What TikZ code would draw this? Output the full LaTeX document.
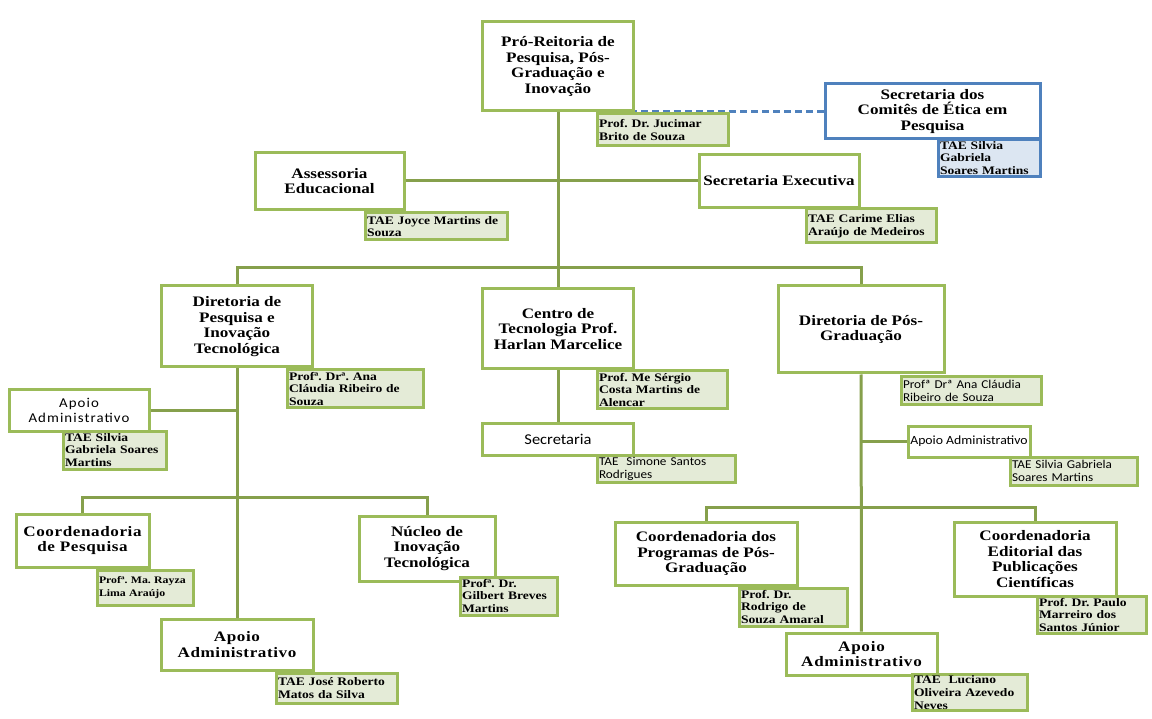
\documentclass[tikz,border=0pt]{standalone}
\usepackage{fontspec}
\setmainfont{Liberation Serif}[FakeStretch=1.18]
\newfontfamily\calib{Carlito}[FakeStretch=1.1]
\frenchspacing
\definecolor{boxgreen}{HTML}{9BBB59}
\definecolor{linegreen}{HTML}{86A04C}
\definecolor{staffgreen}{HTML}{E4EBD7}
\definecolor{boxblue}{HTML}{4F81BD}
\definecolor{staffblue}{HTML}{DCE6F2}
\tikzset{
  unit/.style={draw=boxgreen, line width=3pt, fill=white, align=center, inner sep=1pt,
    font=\bfseries\fontsize{14.5}{15.5}\selectfont},
  staff/.style={draw=boxgreen, line width=3pt, fill=staffgreen, align=left, inner sep=1.5pt,
    font=\bfseries\fontsize{11.5}{12.8}\selectfont},
  sansunit/.style={unit, font=\calib\fontsize{12.5}{15.5}\selectfont},
  sansstaff/.style={staff, font=\calib\fontsize{12}{13.5}\selectfont},
  link/.style={draw=linegreen, line width=3pt},
  dashlink/.style={draw=boxblue, line width=2.5pt, dashed, dash pattern=on 7pt off 4pt}
}
\begin{document}
\begin{tikzpicture}[x=1pt, y=-1pt]
\useasboundingbox (0,0) rectangle (1152,719);
% connectors
\coordinate (bus) at (559,268);
\coordinate (busleft) at (237,497);
\coordinate (busright) at (861,507);
\node[unit, minimum width=151, minimum height=89] (pro) at (558,66.5){Pró-Reitoria de\\Pesquisa, Pós-\\Graduação e\\Inovação};
\node[unit, minimum width=151, minimum height=80] (centro) at (558,329){Centro de\\Tecnologia Prof.\\Harlan Marcelice};
\node[unit, minimum width=151, minimum height=81] (dirpesq) at (237,326.5){Diretoria de\\Pesquisa e\\Inovação\\Tecnológica};
\node[unit, minimum width=166, minimum height=87] (dirpos) at (861,329.5){Diretoria de Pós-\\Graduação};
\draw[link] (pro) -- (centro);
\draw[link] (dirpesq.north) |- (bus) -| (dirpos.north);
\node[unit, minimum width=149, minimum height=57] (assess) at (329.5,181){Assessoria\\Educacional};
\node[unit, minimum width=160, minimum height=53] (secexec) at (779,181){Secretaria Executiva};
\draw[link] (assess) -- (secexec);
\node[unit, draw=boxblue, minimum width=215, minimum height=55] (comites) at (932.5,111.5){Secretaria dos\\Comitês de Ética em\\Pesquisa};
\draw[dashlink] (comites.west) -- (comites.west -| pro.east);
% diretoria de pesquisa
\node[unit, minimum width=152, minimum height=51] (apoiob) at (237,644.5){\addfontfeature{LetterSpace=4}Apoio\\\addfontfeature{LetterSpace=4}Administrativo};
\draw[link] (dirpesq) -- (apoiob);
\node[sansunit, font=\calib\fontsize{13.5}{15.5}\selectfont, minimum width=140, minimum height=41] (apoioa) at (79,410.5){\addfontfeature{LetterSpace=8}Apoio\\\addfontfeature{LetterSpace=8}Administrativo};
\draw[link] (apoioa) -- (apoioa -| dirpesq.south);
\node[unit, minimum width=133, minimum height=53] (coordpesq) at (82.5,540.5){\addfontfeature{LetterSpace=4}Coordenadoria\\\addfontfeature{LetterSpace=4}de Pesquisa};
\node[unit, minimum width=136, minimum height=65] (nucleo) at (427,548.5){Núcleo de\\Inovação\\Tecnológica};
\draw[link] (coordpesq.north) |- (busleft) -| (nucleo.north);
% centro de tecnologia
\node[sansunit, font=\calib\fontsize{15}{15.5}\selectfont, minimum width=151, minimum height=32] (secret) at (558,439){Secretaria};
\draw[link] (centro) -- (secret);
% diretoria de pos-graduacao
\node[unit, minimum width=151, minimum height=42] (apoiod) at (861.5,654){\addfontfeature{LetterSpace=5}Apoio\\\addfontfeature{LetterSpace=5}Administrativo};
\draw[link] (dirpos) -- (apoiod);
\node[sansunit, minimum width=122, minimum height=31] (apoioc) at (969,441.5){Apoio Administrativo};
\draw[link] (apoioc) -- (apoioc -| dirpos.south);
\node[unit, minimum width=182, minimum height=63] (coordprog) at (706,553.5){Coordenadoria dos\\Programas de Pós-\\Graduação};
\node[unit, minimum width=162, minimum height=74] (coordedit) at (1035,559){Coordenadoria\\Editorial das\\Publicações\\Científicas};
\draw[link] (coordprog.north) |- (busright) -| (coordedit.north);
% responsaveis
\node[staff, text width=128, minimum height=32] (jucimar) at (663,130){Prof. Dr. Jucimar\\Brito de Souza};
\node[staff, draw=boxblue, fill=staffblue, text width=99, minimum height=34] (silviacep) at (989.5,158){TAE Silvia\\Gabriela\\Soares Martins};
\node[staff, text width=139, minimum height=27] (joyce) at (436.5,226.5){TAE Joyce Martins de\\Souza};
\node[staff, text width=127, minimum height=34] (carime) at (871.5,226){TAE Carime Elias\\Araújo de Medeiros};
\node[staff, text width=133, minimum height=38] (anadp) at (355.5,389){Profª. Drª. Ana\\Cláudia Ribeiro de\\Souza};
\node[staff, text width=100, minimum height=38] (silviadp) at (115,450){TAE Silvia\\Gabriela Soares\\Martins};
\node[staff, font=\bfseries\fontsize{10}{12.5}\selectfont, text width=93, minimum height=35] (rayza) at (145.5,587.5){Profª. Ma. Rayza\\Lima Araújo};
\node[staff, text width=94, minimum height=38] (gilbert) at (509,596){Profª. Dr.\\Gilbert Breves\\Martins};
\node[staff, text width=118, minimum height=30] (jose) at (337,688){TAE José Roberto\\Matos da Silva};
\node[staff, text width=127, minimum height=38] (sergio) at (662.5,390){Prof. Me Sérgio\\Costa Martins de\\Alencar};
\node[sansstaff, text width=135, minimum height=22] (simone) at (666.5,469){TAE\ \ Simone Santos\\Rodrigues};
\node[sansstaff, text width=137, minimum height=28] (anapg) at (971.5,391){Profª Drª Ana Cláudia\\Ribeiro de Souza};
\node[sansstaff, text width=124, minimum height=28] (silviapg) at (1074,471){TAE Silvia Gabriela\\Soares Martins};
\node[staff, text width=105, minimum height=38] (rodrigo) at (793.5,607){Prof. Dr.\\Rodrigo de\\Souza Amaral};
\node[staff, text width=106, minimum height=36] (paulo) at (1092,615){Prof. Dr. Paulo\\Marreiro dos\\Santos Júnior};
\node[staff, text width=112, minimum height=35] (luciano) at (970,692.5){TAE\ \ Luciano\\Oliveira Azevedo\\Neves};
\end{tikzpicture}
\end{document}
